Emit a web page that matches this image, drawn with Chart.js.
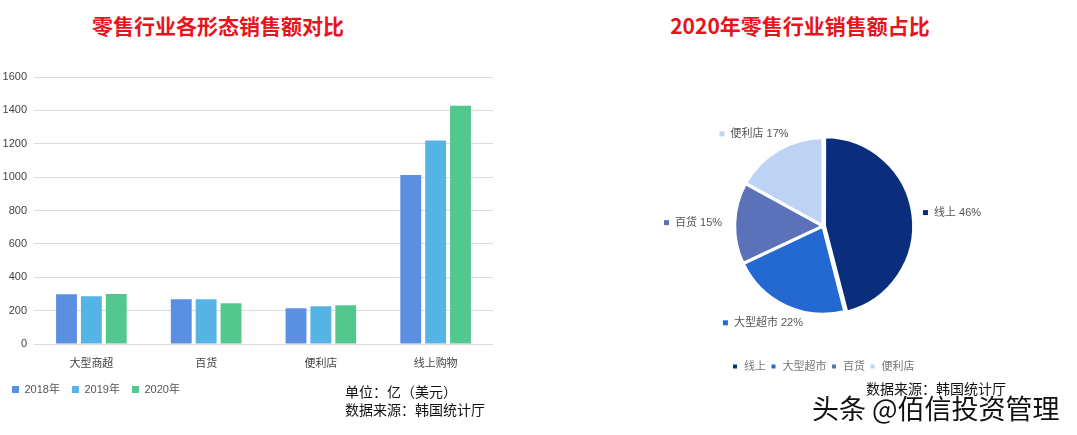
<!DOCTYPE html>
<html lang="zh">
<head>
<meta charset="UTF-8">
<title>零售行业销售额</title>
<script src="https://cdn.jsdelivr.net/npm/chart.js"></script>
<style>
  body { margin: 0; width: 1077px; height: 435px; background: #fff; position: relative; overflow: hidden;
         font-family: 'Liberation Sans', 'Noto Sans CJK SC', sans-serif; }
  .title { position: absolute; top: 10px; font-family: 'Noto Sans CJK SC'; font-weight: bold; font-size: 21px;
           color: #e8141b; white-space: nowrap; line-height: 30px; text-align: center; }
  .note { position: absolute; font-family: 'Noto Sans CJK SC'; font-size: 14px; color: #111; line-height: 18px; white-space: nowrap; }
  .mark { position: absolute; left: 812px; top: 390px; font-family: 'Noto Sans CJK SC'; font-size: 27px; color: #111;
          white-space: nowrap; line-height: 36px; text-shadow: 1px 1px 0 #fff, -1px -1px 0 #fff, 1px -1px 0 #fff, -1px 1px 0 #fff; }
  #barWrap { position: absolute; left: 0; top: 60px; width: 500px; height: 345px; }
  #pieWrap { position: absolute; left: 640px; top: 95px; width: 366px; height: 299px; }
</style>
</head>
<body>
<div class="title" style="left:0;width:436px;">零售行业各形态销售额对比</div>
<div class="title" style="left:600px;width:400px;">2020年零售行业销售额占比</div>

<div id="barWrap"><canvas id="barChart"></canvas></div>
<div id="pieWrap"><canvas id="pieChart"></canvas></div>

<div class="note" style="left:345px;top:382px;">单位：亿（美元）<br>数据来源：韩国统计厅</div>
<div class="note" style="left:866px;top:379px;">数据来源：韩国统计厅</div>
<div class="mark">头条 @佰信投资管理</div>

<script>
// bar chart data (亿美元)
const categories = ['大型商超', '百货', '便利店', '线上购物'];
const sales2018 = [298, 268, 214, 1012];
const sales2019 = [286, 268, 226, 1220];
const sales2020 = [300, 244, 232, 1428];

// pie chart data (2020 share, %)
const pieLabels = ['线上', '大型超市', '百货', '便利店'];
const pieShares = [46, 22, 15, 17];

const tickFont = { family: "'Liberation Sans', 'Noto Sans CJK SC', sans-serif", size: 11 };

new Chart(document.getElementById('barChart'), {
    type: 'bar',
    data: {
        labels: categories,
        datasets: [
            { label: '2018年', data: sales2018, backgroundColor: '#5b8fe2' },
            { label: '2019年', data: sales2019, backgroundColor: '#56b3e5' },
            { label: '2020年', data: sales2020, backgroundColor: '#52c88f' }
        ]
    },
    options: {
        responsive: true,
        maintainAspectRatio: false,
        animation: false,
        layout: { padding: { top: 17, right: 7, left: 0, bottom: 0 } },
        datasets: { bar: { categoryPercentage: 0.65, barPercentage: 0.84 } },
        scales: {
            x: {
                grid: { display: false },
                border: { display: false },
                ticks: { font: tickFont, color: '#444', padding: 5 },
                afterFit(scale) { scale.height = 28; }
            },
            y: {
                min: 0, max: 1600,
                grid: { color: '#dcdcdc', drawTicks: false },
                border: { display: false },
                ticks: { stepSize: 200, font: tickFont, color: '#444', padding: 7, callback: v => String(v) },
                afterFit(scale) { scale.width = 34; }
            }
        },
        plugins: {
            legend: {
                position: 'bottom',
                align: 'start',
                labels: { boxWidth: 7, boxHeight: 7, padding: 12, font: tickFont, color: '#555' }
            },
            tooltip: { enabled: false }
        }
    }
});

const pieColors = ['#0b2e7c', '#2468d2', '#5b72b9', '#bed3f3'];

// labels outside each slice, Excel-style placement
const sliceLabels = {
    id: 'sliceLabels',
    afterDatasetsDraw(chart) {
        const ctx = chart.ctx;
        const arcs = chart.getDatasetMeta(0).data;
        const total = pieShares.reduce((a, b) => a + b, 0);
        ctx.save();
        ctx.font = "11px 'Liberation Sans', 'Noto Sans CJK SC', sans-serif";
        ctx.textBaseline = 'middle';
        arcs.forEach((arc, i) => {
            const mid = (arc.startAngle + arc.endAngle) / 2;
            const r = arc.outerRadius + 13;
            const px = arc.x + Math.cos(mid) * r;
            const py = arc.y + Math.sin(mid) * r;
            const text = pieLabels[i] + ' ' + Math.round(pieShares[i] / total * 100) + '%';
            const w = 5 + 6 + ctx.measureText(text).width;
            const h = 12;
            const left = px - (0.5 - 0.5 * Math.cos(mid)) * w;
            const cy = py - (0.5 - 0.5 * Math.sin(mid)) * h + h / 2;
            ctx.fillStyle = pieColors[i];
            ctx.fillRect(left, cy - 2.5, 5, 5);
            ctx.fillStyle = '#555';
            ctx.fillText(text, left + 11, cy);
        });
        ctx.restore();
    }
};

new Chart(document.getElementById('pieChart'), {
    type: 'pie',
    data: {
        labels: pieLabels,
        datasets: [{
            data: pieShares,
            backgroundColor: pieColors,
            borderColor: '#fff',
            borderWidth: 3,
            offset: [6, 1, 1, 1],
            radius: 88
        }]
    },
    options: {
        responsive: true,
        maintainAspectRatio: false,
        animation: false,
        layout: { padding: { bottom: 12 } },
        plugins: {
            legend: {
                position: 'bottom',
                labels: { boxWidth: 7, boxHeight: 7, padding: 4, font: tickFont, color: '#777' }
            },
            tooltip: { enabled: false }
        }
    },
    plugins: [sliceLabels]
});
</script>
</body>
</html>
